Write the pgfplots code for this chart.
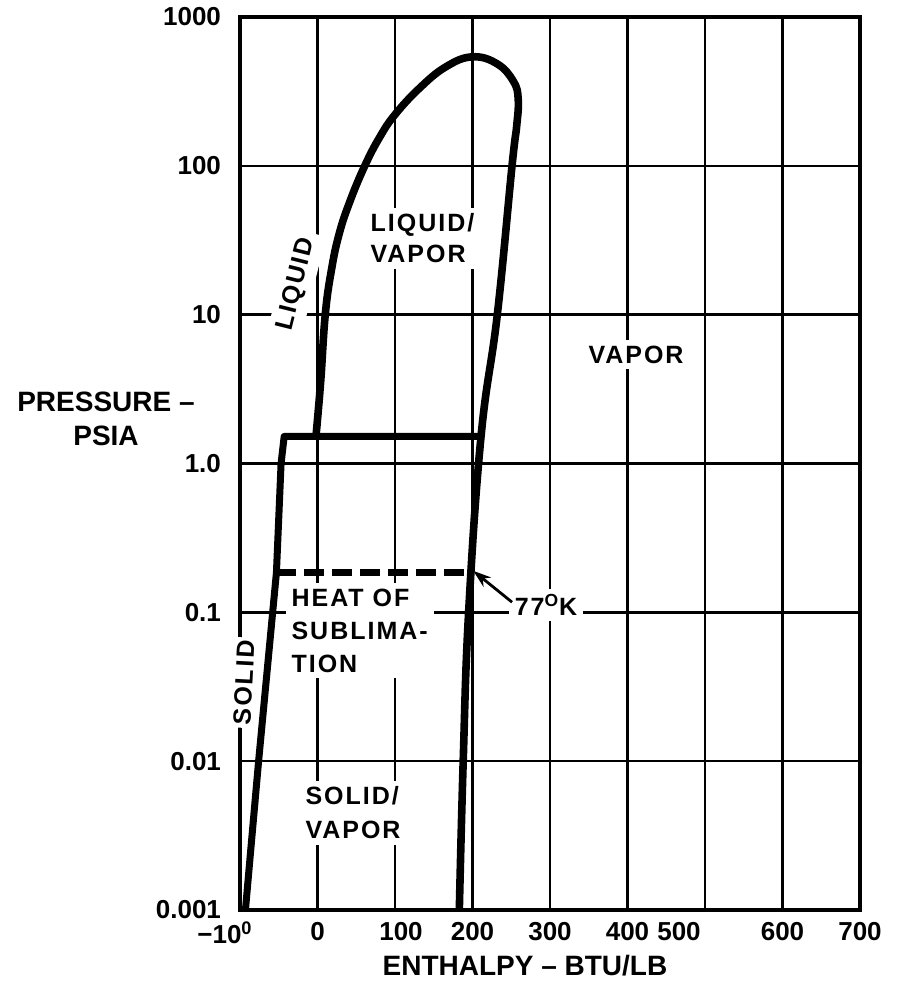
\documentclass[border=0pt]{standalone}
\usepackage{fontspec}
\setmainfont{Liberation Sans}
\newfontfamily\labfont{Liberation Sans}[LetterSpace=8]
\usepackage{pgfplots}
\pgfplotsset{compat=1.18}
\usetikzlibrary{arrows.meta,calc}
\newcommand\sh[2]{\makebox[0pt]{\hspace*{#1}#2}}
\begin{document}
\begin{tikzpicture}[x=1pt,y=1pt]
\useasboundingbox (0,0) rectangle (454,496);
\begin{axis}[
  at={(120pt,41pt)}, anchor=south west,
  scale only axis, width=310pt, height=446.5pt,
  xmin=-100, xmax=700, ymode=log, ymin=0.001, ymax=1000,
  xtick={-100,0,100,200,300,400,500,600,700},
  xticklabels={\sh{-15pt}{−10\textsuperscript{0}},0,\sh{6pt}{100},200,300,400,\sh{-26pt}{500},600,700},
  ytick={0.001,0.01,0.1,1,10,100,1000},
  yticklabels={0.001,0.01,0.1,1.0,10,100,1000},
  yminorticks=false, xminorticks=false,
  grid=major, major grid style={black, line width=1.2pt},
  axis line style={line width=2pt, line cap=rect},
  major tick length=0pt,
  ticklabel style={font=\bfseries\fontsize{13}{15}\selectfont},
  yticklabel style={xshift=-6pt},
  xticklabel style={yshift=-2.5pt},
  /pgf/number format/assume math mode=true,
]
% liquid/vapor dome continuing into the sublimation (vapor) line
\addplot[black, line width=3.8pt, smooth, tension=0.7, line join=round] coordinates {
  (-2,1.52) (4,3.5) (10,10) (18,20) (28,35) (42,58) (61,100) (80,155) (100,221) (132,334) (166,464) (200,540)
  (232,484) (253,368) (259,279) (257,185) (251,100) (232,10) (211,1.52)
  (195,0.1) (188,0.01) (183,0.001)
};
% triple-point line and solid line
\addplot[black, line width=3.5pt, line join=round] coordinates {
  (209,1.52) (-43,1.52) (-47,1.0) (-53,0.185) (-76,0.01) (-93,0.001)
};
% 77 K line (dashed)
\addplot[black, line width=3.5pt, dash pattern=on 10pt off 4pt] coordinates {
  (-53,0.185) (194,0.185)
};
\coordinate (liq) at (axis cs:-27,16);
\coordinate (lv) at (axis cs:68,48);
\coordinate (vap) at (axis cs:411,5.4);
\coordinate (heat) at (axis cs:-34,0.145);
\coordinate (sv) at (axis cs:-16,0.00676);
\coordinate (k77) at (axis cs:254,0.112);
\coordinate (arrtail) at (axis cs:251,0.117);
\coordinate (arrtip) at (axis cs:201,0.19);
\coordinate (sol) at (axis cs:-95,0.0337);
\end{axis}
\tikzset{lab/.style={font=\labfont\bfseries\fontsize{12.5}{15.5}\selectfont, fill=white, inner sep=3pt}}
\node[lab, rotate=76] at (liq) {LIQUID};
\node[lab, anchor=north west, align=left] at ($(lv)+(-3,3)$) {LIQUID/\\VAPOR};
\node[lab] at (vap) {VAPOR};
\node[lab, anchor=north west, align=left, font=\labfont\bfseries\fontsize{12.5}{16.5}\selectfont] at ($(heat)+(-3,3)$) {HEAT OF\\SUBLIMA-\\TION};
\node[lab, anchor=north west, align=left, font=\labfont\bfseries\fontsize{12.5}{17}\selectfont] at ($(sv)+(-3,3)$) {SOLID/\\VAPOR};
\node[lab, anchor=west] at ($(k77)+(-3,0)$) {77\textsuperscript{O}K};
\node[lab, rotate=87, inner sep=1.5pt] at (sol) {SOLID};
\draw[line width=1.4pt, -{Stealth[length=9pt,width=6pt]}] (arrtail) -- (arrtip);
\node[font=\bfseries\fontsize{14}{17}\selectfont, align=center] at (53,286.5) {PRESSURE –\\PSIA};
\node[font=\bfseries\fontsize{14}{16}\selectfont] at (262.5,13) {ENTHALPY – BTU/LB};
\end{tikzpicture}
\end{document}
